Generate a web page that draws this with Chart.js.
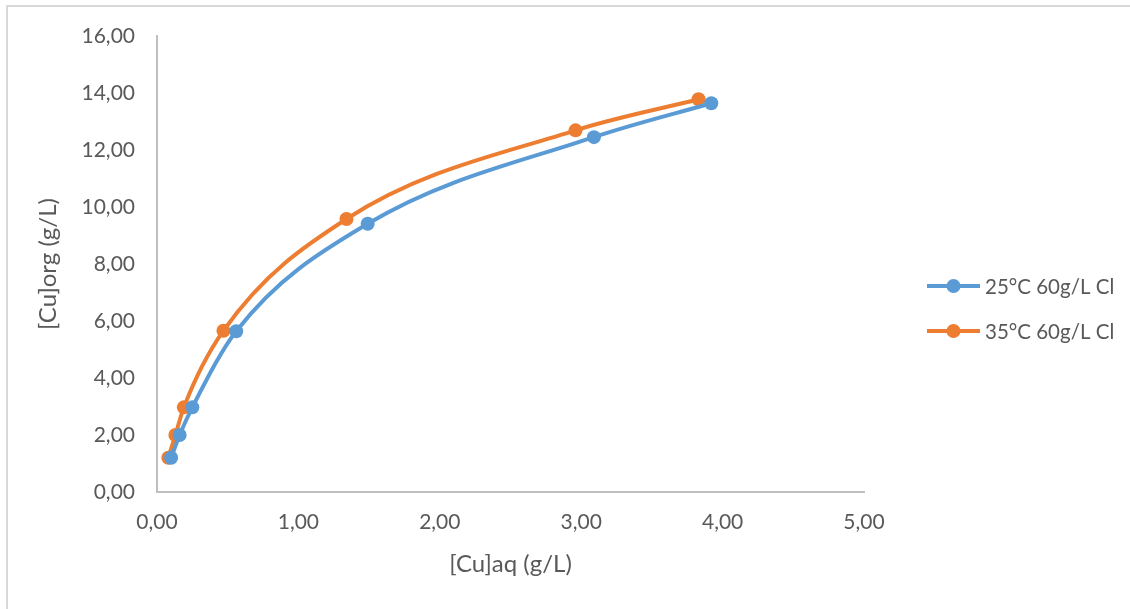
<!DOCTYPE html>
<html>
<head>
<meta charset="utf-8">
<script src="https://cdn.jsdelivr.net/npm/chart.js@4"></script>
<style>
  html, body { margin: 0; padding: 0; background: #fff; overflow: hidden; }
  canvas { display: block; }
</style>
</head>
<body>
<canvas id="isoChart" width="1130" height="609"></canvas>
<script>
// values
const seriesNames = ['25°C 60g/L Cl', '35°C 60g/L Cl'];
const cuAq25  = [0.10, 0.16, 0.25, 0.56, 1.49, 3.09, 3.92];
const cuOrg25 = [1.20, 2.00, 2.97, 5.64, 9.41, 12.45, 13.64];
const cuAq35  = [0.08, 0.13, 0.19, 0.47, 1.34, 2.96, 3.83];
const cuOrg35 = [1.20, 2.00, 2.97, 5.66, 9.58, 12.69, 13.78];
const xTicks = [0, 1, 2, 3, 4, 5];
const yTicks = [0, 2, 4, 6, 8, 10, 12, 14, 16];

const colors = ['#5B9BD5', '#ED7D31'];
const textColor = '#595959';
const fmt = v => v.toFixed(2).replace('.', ',');

const toPoints = (xs, ys) => xs.map((x, i) => ({ x, y: ys[i] }));

// Excel-like legend: short line with a dot, then the label
const sideLegend = {
    id: 'sideLegend',
    afterDraw(chart) {
        const ctx = chart.ctx;
        ctx.save();
        ctx.font = '20.5px Lato';
        ctx.textBaseline = 'middle';
        chart.data.datasets.forEach((ds, i) => {
            const y = 286 + i * 45;
            ctx.strokeStyle = ds.borderColor;
            ctx.lineWidth = 4;
            ctx.beginPath();
            ctx.moveTo(927, y);
            ctx.lineTo(980, y);
            ctx.stroke();
            ctx.fillStyle = ds.borderColor;
            ctx.beginPath();
            ctx.arc(953.5, y, 7, 0, Math.PI * 2);
            ctx.fill();
            ctx.fillStyle = textColor;
            ctx.fillText(ds.label, 985, y + 1);
        });
        // chart frame
        ctx.strokeStyle = '#d9d9d9';
        ctx.lineWidth = 2;
        ctx.strokeRect(7, 6, 1140, 620);
        ctx.restore();
    },
};

new Chart(document.getElementById('isoChart'), {
    type: 'line',
    data: {
        datasets: [
            { label: seriesNames[0], data: toPoints(cuAq25, cuOrg25) },
            { label: seriesNames[1], data: toPoints(cuAq35, cuOrg35) },
        ].map((ds, i) => Object.assign(ds, {
            borderColor: colors[i],
            backgroundColor: colors[i],
            borderWidth: 4,
            pointRadius: 7,
            pointBorderWidth: 0,
            tension: 0.4,
            cubicInterpolationMode: 'monotone',
        })),
    },
    plugins: [sideLegend],
    options: {
        responsive: false,
        animation: false,
        devicePixelRatio: 1,
        layout: { padding: { left: 34, right: 266, top: 36, bottom: 30 } },
        plugins: { legend: { display: false }, tooltip: { enabled: false } },
        scales: {
            x: {
                type: 'linear',
                min: 0, max: 5,
                afterBuildTicks: s => { s.ticks = xTicks.map(v => ({ value: v })); },
                afterFit: s => { s.height = 87; },
                grid: { display: false, drawTicks: false },
                border: { color: '#bfbfbf', width: 2 },
                ticks: { color: textColor, font: { family: 'Lato', size: 21 }, padding: 18,
                         callback: v => fmt(v) },
                title: { display: true, text: '[Cu]aq (g/L)', color: textColor,
                         font: { family: 'Lato', size: 24 }, padding: 0 },
            },
            y: {
                min: 0, max: 16,
                afterBuildTicks: s => { s.ticks = yTicks.map(v => ({ value: v })); },
                afterFit: s => { s.width = 123; },
                grid: { display: false, drawTicks: false },
                border: { color: '#bfbfbf', width: 2 },
                ticks: { color: textColor, font: { family: 'Lato', size: 21 }, padding: 22,
                         callback: v => fmt(v) },
                title: { display: true, text: '[Cu]org (g/L)', color: textColor,
                         font: { family: 'Lato', size: 24 }, padding: 0 },
            },
        },
    },
});
</script>
</body>
</html>
